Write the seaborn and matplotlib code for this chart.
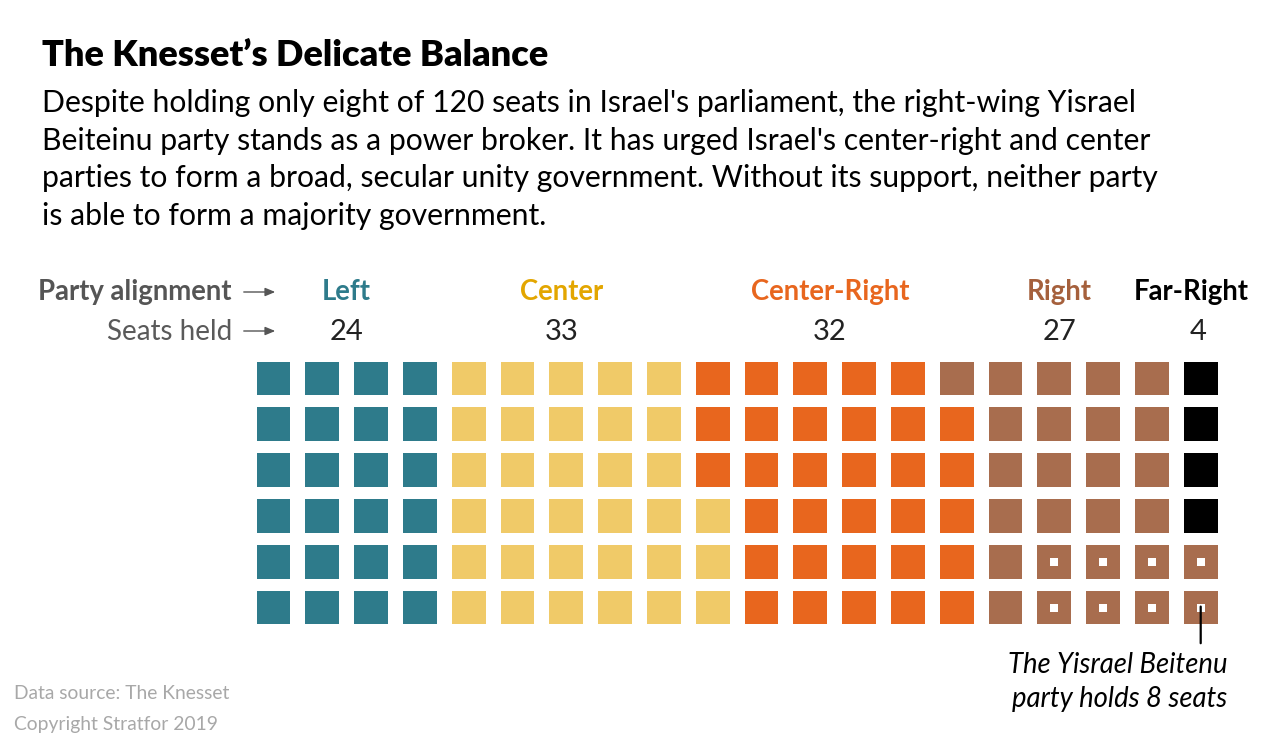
import matplotlib
matplotlib.use("Agg")
import matplotlib.pyplot as plt
import matplotlib.transforms as mtransforms
import matplotlib.patches as mpatches
import seaborn as sns
import pandas as pd

# ---------------- data ----------------
alignments = ["Left", "Center", "Center-Right", "Right", "Far-Right"]
seats = [24, 33, 32, 27, 4]
yisrael_beitenu_seats = 8          # part of the "Right" bloc
yb_bloc = "Right"
n_rows = 6

# ---------------- style ----------------
square_colors = ["#2e7b8b", "#f0ca68", "#e8661e", "#a86d4e", "#000000"]
label_colors = ["#2e7b8b", "#e3a600", "#e8661e", "#a5603c", "#000000"]
label_cols = [1.5, 5.9, 11.4, 16.1, 18.8]
number_cols = [1.5, 5.9, 11.4, 16.1, 18.95]

sns.set_theme(style="white")
plt.rcParams["font.family"] = ["Lato", "DejaVu Sans"]

W, H = 1280, 747
fig = plt.figure(figsize=(W / 100, H / 100), dpi=100)
fig.patch.set_facecolor("white")


def fx(px):
    return px / W


def fy(py):
    return 1 - py / H


# ---------------- waffle data frame ----------------
rows = []
i = 0
for name, n in zip(alignments, seats):
    for _ in range(n):
        col = i // n_rows
        row_from_bottom = i % n_rows
        rows.append({"alignment": name, "col": col, "row": n_rows - 1 - row_from_bottom,
                     "rfb": row_from_bottom})
        i += 1
df = pd.DataFrame(rows)

# Yisrael Beitenu seats: rightmost squares of the bottom two rows of its bloc
cand = df[(df.alignment == yb_bloc) & (df.rfb < 2)].sort_values("col", ascending=False)
yb = cand.head(yisrael_beitenu_seats)

# ---------------- axes for grid ----------------
col0, cpitch = 273.5, 48.8
row0, rpitch = 378.5, 45.8
n_cols = df.col.max() + 1
left_px = col0 - cpitch / 2
top_px = row0 - rpitch / 2
ax = fig.add_axes([fx(left_px), fy(top_px + rpitch * n_rows),
                   cpitch * n_cols / W, rpitch * n_rows / H])
ax.set_xlim(-0.5, n_cols - 0.5)
ax.set_ylim(n_rows - 0.5, -0.5)
ax.axis("off")

side_pt = 33.7 * 0.72
sns.scatterplot(data=df, x="col", y="row", hue="alignment",
                palette=dict(zip(alignments, square_colors)),
                marker="s", s=side_pt ** 2, linewidth=0, legend=False, ax=ax)
mark_pt = 8.7 * 0.72
sns.scatterplot(data=yb, x="col", y="row", color="white", marker="s",
                s=mark_pt ** 2, linewidth=0, legend=False, ax=ax)
ax.set_xlabel("")
ax.set_ylabel("")

# annotation line from last Yisrael Beitenu seat
last = yb.sort_values(["col", "row"], ascending=False).iloc[0]
ax.annotate("", xy=(last.col, last.row - 0.02), xycoords="data",
            xytext=(last.col, last.row + 0.78), textcoords="data",
            arrowprops=dict(arrowstyle="-", color="black", lw=1.6,
                            shrinkA=0, shrinkB=0), annotation_clip=False)

# ---------------- headers over the grid ----------------
blend = mtransforms.blended_transform_factory(ax.transData, fig.transFigure)
for name, n, c, lc, nc in zip(alignments, seats, label_colors, label_cols, number_cols):
    ax.text(lc, fy(300), name, transform=blend, ha="center", va="baseline",
            fontsize=19.8, fontweight="bold", color=c)
    ax.text(nc, fy(340), str(n), transform=blend, ha="center", va="baseline",
            fontsize=21, fontweight="normal", color="#222222")

fig.text(fx(232), fy(300), "Party alignment", ha="right", va="baseline",
         fontsize=19.8, fontweight="bold", color="#555555")
fig.text(fx(232), fy(340), "Seats held", ha="right", va="baseline",
         fontsize=20, fontweight="normal", color="#5a5a5a")
for yy in (292, 331):
    fig.add_artist(mpatches.FancyArrowPatch(
        (fx(241), fy(yy)), (fx(278), fy(yy)), transform=fig.transFigure,
        arrowstyle="-|>,head_length=6,head_width=2.5", color="#555555", lw=1.0,
        mutation_scale=1))

# ---------------- title & subtitle ----------------
fig.text(fx(42), fy(66), "The Knesset\u2019s Delicate Balance", ha="left", va="baseline",
         fontsize=26, fontweight="heavy", color="black")
sub_lines = [
    "Despite holding only eight of 120 seats in Israel's parliament, the right-wing Yisrael",
    "Beiteinu party stands as a power broker. It has urged Israel's center-right and center",
    "parties to form a broad, secular unity government. Without its support, neither party",
    "is able to form a majority government.",
]
for k, line in enumerate(sub_lines):
    fig.text(fx(42), fy(112 + 37.7 * k), line, ha="left", va="baseline",
             fontsize=21.7, color="black")

# ---------------- annotation text ----------------
fig.text(fx(1227), fy(673), "The Yisrael Beitenu", ha="right", va="baseline",
         fontsize=19.8, style="italic", color="black")
fig.text(fx(1227), fy(707), "party holds 8 seats", ha="right", va="baseline",
         fontsize=19.8, style="italic", color="black")

# ---------------- footer ----------------
fig.text(fx(14), fy(699), "Data source: The Knesset", ha="left", va="baseline",
         fontsize=13.9, fontweight="normal", color="#a8a8a8")
fig.text(fx(14), fy(730), "Copyright Stratfor 2019", ha="left", va="baseline",
         fontsize=13.9, fontweight="normal", color="#a8a8a8")

fig.savefig("out.png", dpi=100, facecolor="white")
